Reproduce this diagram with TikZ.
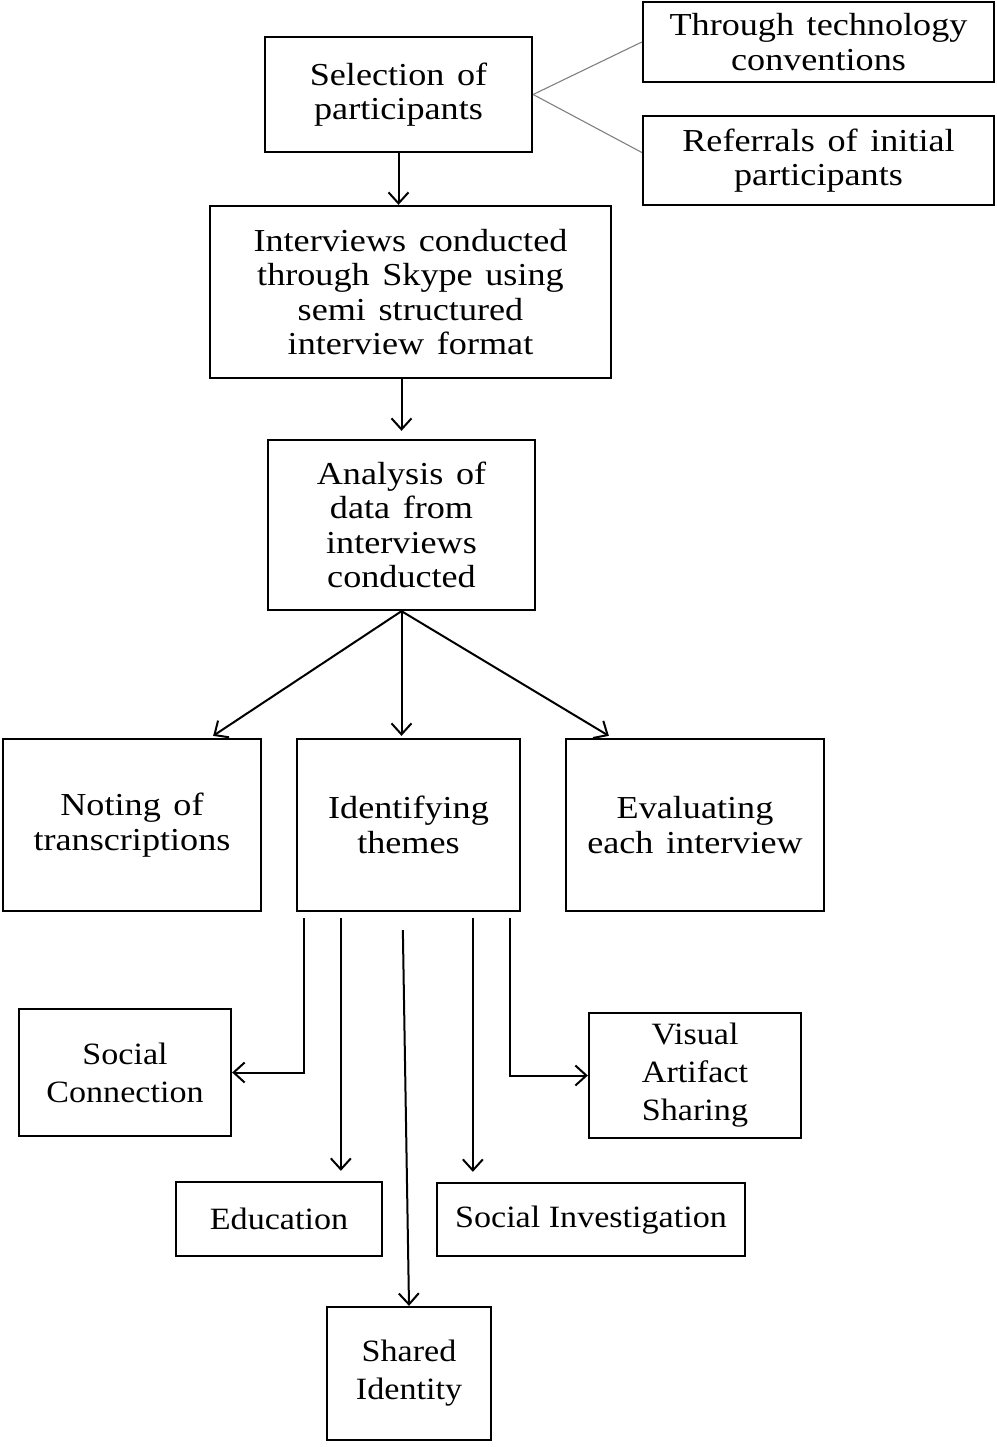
\documentclass[tikz,border=0pt]{standalone}
\usepackage{fontspec}
\setmainfont{Liberation Serif}[FakeStretch=1.1]
\newfontfamily\wideserif{Liberation Serif}[FakeStretch=1.13,WordSpace=1.4]
\usetikzlibrary{arrows.meta,calc}
\begin{document}
\begin{tikzpicture}[x=1pt,y=-1pt,
 box/.style={draw,line width=2.3pt,align=center,inner sep=0pt,font=\wideserif\fontsize{32}{34.5}\selectfont},
 lbox/.style={box,font=\rmfamily\fontsize{31}{38}\selectfont},
 arr/.style={line width=2pt,-{Straight Barb[length=11pt,width=20pt]}},
 thinline/.style={line width=1.1pt,draw=gray}]
\useasboundingbox (0,0) rectangle (996,1447);
\node[box,minimum width=267pt,minimum height=115pt] (sel) at (398.5,94.5) {Selection of\\participants};
\node[box,minimum width=351pt,minimum height=80pt] (tech) at (818.5,42) {Through technology\\conventions};
\node[box,minimum width=351pt,minimum height=89pt] (ref) at (818.5,160.5) {Referrals of initial\\participants};
\node[box,minimum width=401pt,minimum height=172pt] (intv) at (410.5,292) {Interviews conducted\\through Skype using\\semi structured\\interview format};
\node[box,minimum width=267pt,minimum height=170pt] (ana) at (401.5,525) {Analysis of\\data from\\interviews\\conducted};
\node[box,minimum width=258pt,minimum height=172pt] (note) at (132,825) {Noting of\\transcriptions};
\node[box,minimum width=223pt,minimum height=172pt] (ident) at (408.5,825) {Identifying\\themes};
\node[box,minimum width=258pt,minimum height=172pt] (eval) at (695,825) {Evaluating\\each interview};
\node[lbox,minimum width=212pt,minimum height=127pt] (sc) at (125,1072.5) {Social\\Connection};
\node[lbox,minimum width=212pt,minimum height=125pt] (vis) at (695,1075.5) {Visual\\Artifact\\Sharing};
\node[lbox,minimum width=206pt,minimum height=74pt] (edu) at (279,1219) {Education};
\node[lbox,minimum width=308pt,minimum height=73pt] (si) at (591,1219.5) {Social Investigation\strut};
\node[lbox,minimum width=164pt,minimum height=133pt] (shid) at (409,1373.5) {Shared\\Identity};
% top side lines
\draw[thinline] (sel.east) -- (tech.west);
\draw[thinline] (sel.east) -- ($(ref.west)+(0,-8)$);
% main chain
\draw[arr] (sel.south) -- (sel.south |- intv.north);
\draw[arr] (ana.north |- intv.south) -- ($(ana.north)+(0,-8)$);
\draw[arr] (ana.south) -- ($(note.north east)+(-49,-2)$);
\draw[arr] (ana.south) -- ($(ana.south |- ident.north)+(0,-2)$);
\draw[arr] (ana.south) -- ($(eval.north west)+(44,-2)$);
% theme branches
\coordinate (b1) at ($(ident.south west)+(8,6)$);
\coordinate (b2) at ($(ident.south west)+(45,6)$);
\coordinate (b3) at ($(ident.south west)+(107,18)$);
\coordinate (b4) at ($(ident.south west)+(177,6)$);
\coordinate (b5) at ($(ident.south west)+(214,6)$);
\draw[arr] (b1) |- (sc.east);
\draw[arr] (b2) -- ($(b2 |- edu.north)+(0,-10)$);
\draw[arr] (b3) -- (shid.north);
\draw[arr] (b4) -- ($(b4 |- si.north)+(0,-10)$);
\draw[arr] (b5) |- (vis.west);
\end{tikzpicture}
\end{document}
